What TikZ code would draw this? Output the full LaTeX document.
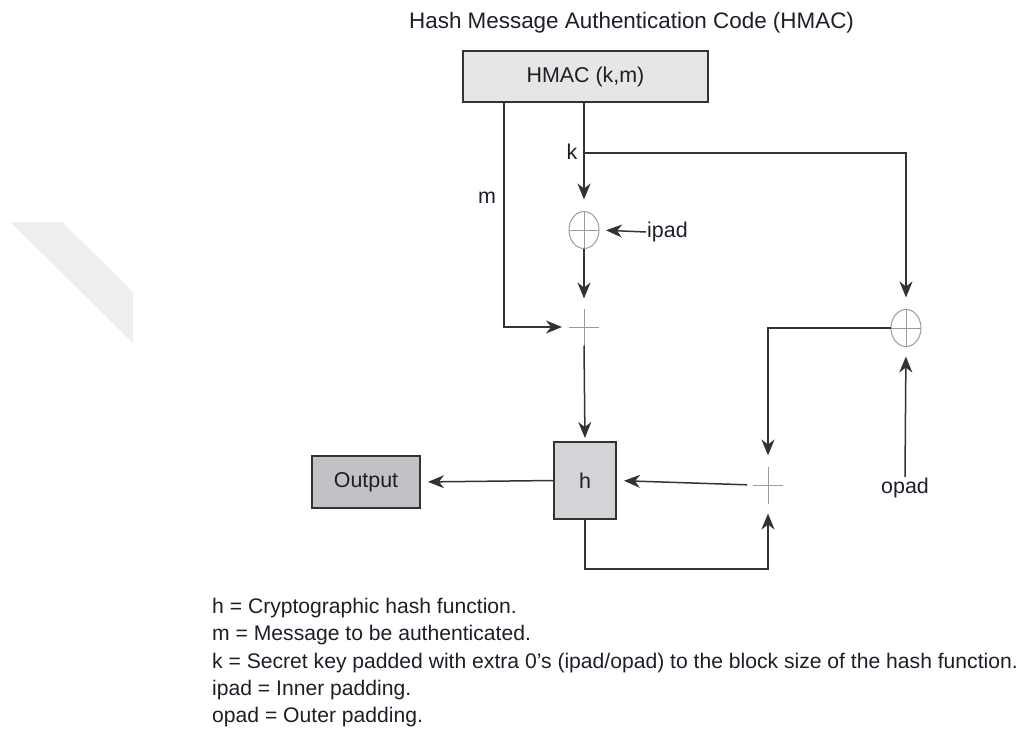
\documentclass[tikz,border=0pt]{standalone}
\usepackage{fontspec}
\setmainfont{Liberation Sans}
\usetikzlibrary{arrows.meta,shapes.geometric}
\definecolor{linec}{HTML}{333333}
\definecolor{opc}{HTML}{9A9A9A}
\definecolor{txtc}{HTML}{1E1E28}
\definecolor{hmacfill}{HTML}{E6E6E6}
\definecolor{hfill}{HTML}{D3D4D7}
\definecolor{outfill}{HTML}{C1C2C6}
\definecolor{wmark}{HTML}{EEEEEE}
\tikzset{
  every node/.style={text=txtc, font=\fontsize{21.5}{25}\selectfont},
  line/.style={draw=linec, line width=1.5bp},
  arr/.style={line, -{Stealth[length=16bp,width=13bp,inset=5bp]}},
  blk/.style={draw=linec, line width=1.5bp, inner sep=0pt, outer sep=0pt},
  xorn/.style={ellipse, draw=opc, line width=1bp, minimum width=30bp, minimum height=37bp, inner sep=0pt, outer sep=0pt,
    path picture={\draw[opc, line width=1bp] (path picture bounding box.north) -- (path picture bounding box.south)
      (path picture bounding box.west) -- (path picture bounding box.east);}},
  plusn/.style={rectangle, minimum width=30bp, minimum height=37bp, inner sep=0pt, outer sep=0pt,
    path picture={\draw[opc, line width=1bp] (path picture bounding box.north) -- (path picture bounding box.south)
      (path picture bounding box.west) -- (path picture bounding box.east);}},
  lbl/.style={inner sep=1bp},
  legend/.style={anchor=base west, inner sep=0pt, font=\fontsize{21.2}{25}\selectfont},
}
\begin{document}
\begin{tikzpicture}[x=1bp, y=-1bp]
\useasboundingbox (0,0) rectangle (1028,745);
% faint background mark
\fill[wmark] (10,222) -- (62,222) -- (133,292) -- (133,343) -- cycle;
% title
\node[anchor=base west, inner sep=0pt, font=\fontsize{22.5}{26}\selectfont] (title) at (409,29) {Hash Message Authentication Code (HMAC)};
% blocks
\node[blk, fill=hmacfill, minimum width=245bp, minimum height=51bp] (hmac) at (585.5,76.5) {HMAC (k,m)};
\node[xorn] (xor1) at (584,230) {};
\node[plusn] (plus1) at (584,327) {};
\node[blk, fill=hfill, minimum width=62bp, minimum height=77bp] (h) at (585,480.5) {h};
\node[blk, fill=outfill, minimum width=108bp, minimum height=52bp] (output) at (366,482) {Output};
\node[plusn] (plus2) at (768,485) {};
\node[xorn] (xor2) at (906,328) {};
% labels
\node[lbl] (mlab) at (487,198) {m};
\node[lbl] (klab) at (572,152) {k};
\node[lbl, anchor=west] (ipad) at (646,232) {ipad};
\node[lbl] (opad) at (905,488) {opad};
% helper coordinates
\coordinate (mline) at (504,327);
\coordinate (kjoin) at (584,153);
\coordinate (loopc) at (768,569);
% connectors
\draw[arr, shorten >=7bp] (hmac.south -| mline) |- (plus1.west);
\draw[arr, shorten >=12bp] (hmac.south -| xor1) -- (xor1.north);
\draw[arr, shorten >=12bp] (kjoin) -| (xor2.north);
\draw[arr, shorten >=7bp] (ipad.west) -- (xor1.east);
\draw[arr, shorten >=10bp] (xor1.south) -- (plus1.north);
\draw[arr, shorten >=4bp] (plus1.south) -- (h.north);
\draw[arr, shorten >=8bp] (h.west) -- (output.east);
\draw[arr, shorten <=6bp, shorten >=8bp] (plus2.west) -- (h.east);
\draw[arr, shorten >=11bp] (xor2.west) -| (plus2.north);
\draw[arr, shorten >=10bp] (opad.north) -- (xor2.south);
\draw[arr, shorten >=10bp] (h.south) |- (loopc) -- (plus2.south);
% legend
\node[legend] (l1) at (212,613) {h = Cryptographic hash function.};
\node[legend] (l2) at (212,640) {m = Message to be authenticated.};
\node[legend] (l3) at (212,668) {k = Secret key padded with extra 0's (ipad/opad) to the block size of the hash function.};
\node[legend] (l4) at (212,695) {ipad = Inner padding.};
\node[legend] (l5) at (212,722) {opad = Outer padding.};
\end{tikzpicture}
\end{document}
